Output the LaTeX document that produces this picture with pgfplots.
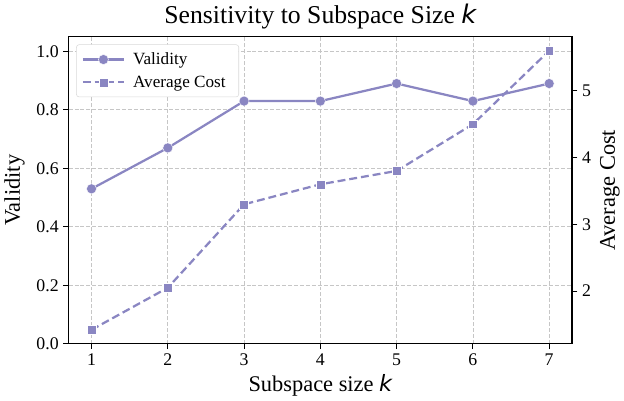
\documentclass[border=0pt]{standalone}
\usepackage{pgfplots}
\pgfplotsset{compat=1.18}
\usepackage{fontspec}
\setmainfont{Liberation Serif}
\newfontfamily\dejavu{DejaVu Sans}
\definecolor{pc}{RGB}{138,134,194}
\newcommand{\kk}{{\dejavu\itshape k}}
\begin{document}
\begin{tikzpicture}
\pgfplotsset{
  base/.style={
    scale only axis, width=382pt, height=233pt,
    xmin=0.7, xmax=7.3,
    tick label style={font=\fontsize{13.5}{15}\selectfont},
    /pgf/number format/assume math mode=true,
    tick align=outside, major tick length=4pt,
    tick style={black, line width=0.7pt},
    axis line style={line width=0.9pt},
    label style={font=\fontsize{17}{19}\selectfont},
  },
  cdash/.style={dash pattern=on 6pt off 3pt},
}
\begin{axis}[base,
  ymin=0, ymax=1.05,
  xtick pos=bottom, ytick pos=left,
  xtick={1,...,7},
  ytick={0,0.2,...,1.0},
  yticklabel style={/pgf/number format/.cd, fixed, fixed zerofill, precision=1},
  grid=major,
  grid style={dash pattern=on 3pt off 1.5pt, gray!45, line width=0.6pt},
  xlabel={Subspace size \kk},
  ylabel={Validity},
  ylabel style={yshift=2pt},
  title={Sensitivity to Subspace Size \kk},
  title style={font=\fontsize{19.5}{22}\selectfont, yshift=-4pt},
  legend style={at={(0.015,0.975)}, anchor=north west, font=\fontsize{13}{15}\selectfont,
    draw=gray!30, rounded corners=2pt, row sep=3pt, inner xsep=4pt, inner ysep=4pt,
    nodes={inner xsep=6pt}},
  legend cell align=left,
  legend image code/.code={
    \draw[mark repeat=2, mark phase=2] plot coordinates {(0cm,0cm) (0.55cm,0cm) (1.1cm,0cm)};
  },
]
\addplot[pc, line width=1.7pt, mark=*, mark size=3.8pt, mark options={solid, draw=white, line width=0.3pt, fill=pc}]
  coordinates {(1,0.53) (2,0.67) (3,0.83) (4,0.83) (5,0.89) (6,0.83) (7,0.89)};
\addlegendentry{Validity}
\addlegendimage{pc, line width=1.7pt, cdash, mark=square*, mark size=3.4pt, mark options={solid, draw=white, line width=0.3pt, fill=pc}}
\addlegendentry{Average Cost}
\end{axis}
\begin{axis}[base,
  ymin=1.21, ymax=5.81,
  axis y line*=right, axis x line=none,
  ytick={2,3,4,5},
  ylabel={Average Cost},
]
\addplot[pc, line width=1.7pt, cdash, mark=square*, mark size=3.4pt, mark options={solid, draw=white, line width=0.3pt, fill=pc}]
  coordinates {(1,1.42) (2,2.05) (3,3.3) (4,3.6) (5,3.8) (6,4.5) (7,5.6)};
\end{axis}
\end{tikzpicture}
\end{document}
